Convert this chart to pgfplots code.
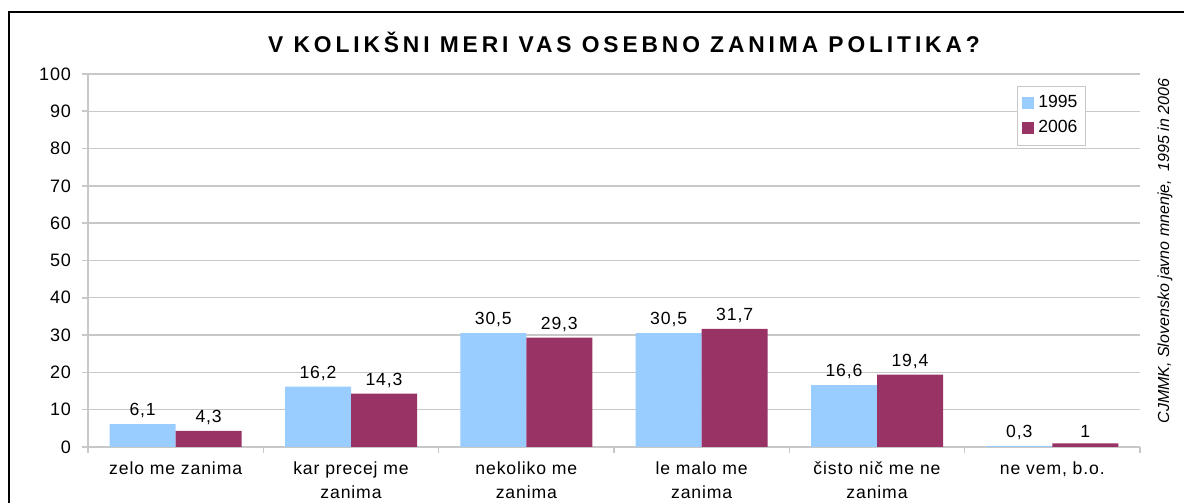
\documentclass[border=0pt]{standalone}
\usepackage{pgfplots}
\pgfplotsset{compat=1.18}
\usepackage{fontspec}
\setmainfont{Liberation Sans}
\definecolor{cblue}{HTML}{99CCFF}
\definecolor{cred}{HTML}{993366}
\definecolor{gridc}{HTML}{C8C8C8}
\begin{document}
\begin{tikzpicture}
\useasboundingbox (0pt,0pt) rectangle (592pt,251.5pt);
\fill[white] (0pt,0pt) rectangle (592pt,251.5pt);
\draw[black, line width=0.8pt] (4.5pt,0pt) -- (4.5pt,245.5pt) -- (592pt,245.5pt);
\node[font=\bfseries\fontsize{11.4}{13}\selectfont\addfontfeature{LetterSpace=17}] at (312pt,230.5pt) {V KOLIKŠNI MERI VAS OSEBNO ZANIMA POLITIKA?};
\node[rotate=90, font=\itshape\fontsize{8}{9}\selectfont] at (582.5pt,126pt) {CJMMK, Slovensko javno mnenje,\ \ 1995 in 2006};
\begin{axis}[
  at={(44pt,28pt)}, anchor=south west,
  scale only axis, width=526pt, height=186.5pt,
  ybar=0pt, bar width=33pt,
  xmin=-0.5, xmax=5.5, ymin=0, ymax=100,
  ytick={0,10,...,100},
  xtick={0,1,2,3,4,5},
  /pgf/number format/assume math mode=true,
  xticklabels={zelo me zanima, kar precej me\\zanima, nekoliko me\\zanima, le malo me\\zanima, čisto nič me ne\\zanima, {ne vem, b.o.}},
  xticklabel style={align=center, anchor=north, yshift=-1pt, font=\fontsize{8.8}{12}\selectfont\addfontfeature{LetterSpace=5}},
  yticklabel style={font=\fontsize{9}{10}\selectfont\addfontfeature{LetterSpace=5}, xshift=-2pt},
  major x tick style={draw=none},
  minor xtick={-0.5,0.5,...,5.5},
  minor x tick style={draw=gridc, line width=0.8pt},
  minor tick length=3pt,
  major tick length=3pt,
  ytick style={draw=gridc, line width=0.8pt},
  tick align=outside,
  ymajorgrids, grid style={gridc, line width=0.7pt},
  axis x line*=bottom, axis y line*=left,
  axis line style={gridc, line width=0.9pt},
  x axis line style={-}, y axis line style={-},
  nodes near coords,
  nodes near coords style={font=\fontsize{8.8}{10}\selectfont\addfontfeature{LetterSpace=5}, black, /pgf/number format/use comma, /pgf/number format/assume math mode=true, yshift=-0.5pt},
  legend style={at={(0.883,0.968)}, anchor=north west, draw=gridc, font=\fontsize{8.8}{10}\selectfont, row sep=1pt, inner sep=2.5pt, text width=19pt},
  legend image code/.code={\fill[#1] (0pt,-3pt) rectangle (6pt,3pt);},
  every axis plot/.append style={draw=none},
]
\addplot[fill=cblue] coordinates {(0,6.1) (1,16.2) (2,30.5) (3,30.5) (4,16.6) (5,0.3)};
\addplot[fill=cred] coordinates {(0,4.3) (1,14.3) (2,29.3) (3,31.7) (4,19.4) (5,1)};
\legend{1995,2006}
\end{axis}
\end{tikzpicture}
\end{document}
